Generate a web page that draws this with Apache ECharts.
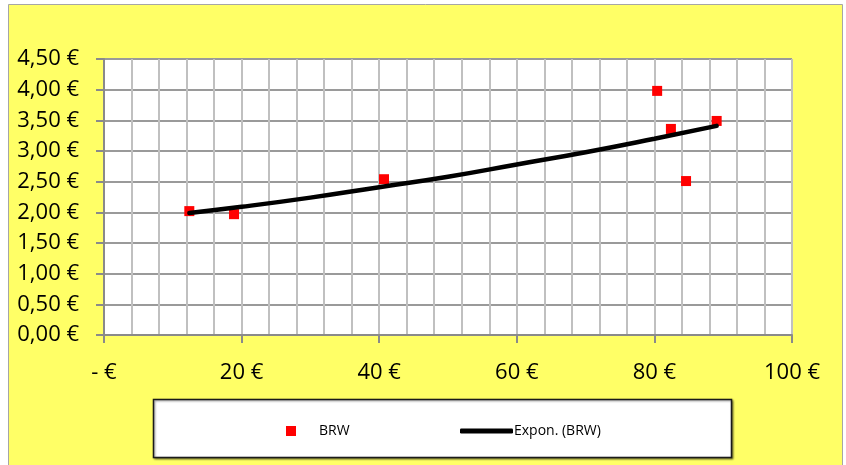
<!DOCTYPE html>
<html>
<head>
<meta charset="utf-8">
<script src="https://cdn.jsdelivr.net/npm/echarts@6/dist/echarts.min.js"></script>
<style>
  html, body { margin: 0; padding: 0; background: #ffffff; }
  #chart { width: 846px; height: 465px; }
</style>
</head>
<body>
<div id="chart"></div>
<script>
// BRW price observations (x: €, y: €)
const brwX = [12.4, 18.9, 40.7, 80.4, 82.4, 84.6, 89.05];
const brwY = [2.02, 1.97, 2.54, 3.98, 3.36, 2.51, 3.49];

// Exponential trend line through the observations
const trendX = [12.4, 20, 30, 40, 50, 60, 70, 80, 89.05];
const trendY = [1.99, 2.09, 2.24, 2.41, 2.58, 2.78, 2.98, 3.20, 3.41];

// Axis tick labels
const xTickValues = [0, 20, 40, 60, 80, 100];
const xTickLabels = ['- €', '20 €', '40 €', '60 €', '80 €', '100 €'];
const yTickValues = [0, 0.5, 1, 1.5, 2, 2.5, 3, 3.5, 4, 4.5];
const yTickLabels = ['0,00 €', '0,50 €', '1,00 €', '1,50 €', '2,00 €', '2,50 €', '3,00 €', '3,50 €', '4,00 €', '4,50 €'];

const seriesNames = ['BRW', 'Expon. (BRW)'];

const FONT = "'Open Sans', 'Noto Sans', sans-serif";

function tickLabel(values, labels) {
  return function (v) {
    for (let i = 0; i < values.length; i++) {
      if (Math.abs(values[i] - v) < 1e-6) return labels[i];
    }
    return '';
  };
}

const chart = echarts.init(document.getElementById('chart'), null, { renderer: 'canvas' });

chart.setOption({
  backgroundColor: '#ffffff',
  animation: false,
  textStyle: { fontFamily: FONT },
  graphic: [
    {
      type: 'rect',
      z: -100,
      shape: { x: 8.5, y: 4.5, width: 834, height: 470 },
      style: { fill: '#FFFF66', stroke: '#a6a6a6', lineWidth: 1 }
    },
    {
      type: 'rect',
      z: 1,
      shape: { x: 153.5, y: 399.5, width: 578, height: 58 },
      style: {
        fill: '#ffffff', stroke: '#1a1a1a', lineWidth: 1.5,
        shadowBlur: 2, shadowOffsetX: 1, shadowOffsetY: 1, shadowColor: 'rgba(0,0,0,0.45)'
      }
    }
  ],
  grid: {
    left: 104, top: 59, right: 54, bottom: 130,
    show: true, backgroundColor: '#ffffff', borderWidth: 0
  },
  legend: [
    {
      data: [seriesNames[0]],
      left: 281, top: 419,
      icon: 'rect',
      itemWidth: 10, itemHeight: 10,
      itemStyle: { color: '#ff0000', opacity: 1 },
      textStyle: { fontFamily: FONT, fontSize: 14, color: '#000', padding: [0, 0, 0, 18] }
    },
    {
      data: [seriesNames[1]],
      left: 455, top: 419,
      icon: 'roundRect',
      itemWidth: 53, itemHeight: 5,
      itemStyle: { color: '#000000' },
      textStyle: { fontFamily: FONT, fontSize: 14, color: '#000', padding: [0, 0, 0, -4] }
    }
  ],
  xAxis: {
    type: 'value',
    min: 0, max: 100, interval: 20,
    axisLine: { show: true, onZero: false, lineStyle: { color: '#8a8a8a', width: 2 } },
    axisTick: { show: true, length: 8, lineStyle: { color: '#8a8a8a', width: 2 } },
    axisLabel: {
      margin: 27, fontSize: 22, color: '#000', fontFamily: FONT,
      formatter: tickLabel(xTickValues, xTickLabels)
    },
    splitLine: { show: true, lineStyle: { color: '#c0c0c0', width: 2 } },
    minorTick: { show: false, splitNumber: 5 },
    minorSplitLine: { show: true, lineStyle: { color: '#c0c0c0', width: 2 } }
  },
  yAxis: {
    type: 'value',
    min: 0, max: 4.5, interval: 0.5,
    axisLine: { show: true, onZero: false, lineStyle: { color: '#8a8a8a', width: 2 } },
    axisTick: { show: true, length: 8, lineStyle: { color: '#8a8a8a', width: 2 } },
    axisLabel: {
      margin: 25, fontSize: 22, color: '#000', fontFamily: FONT,
      formatter: tickLabel(yTickValues, yTickLabels)
    },
    splitLine: { show: true, lineStyle: { color: '#9a9a9a', width: 2 } }
  },
  series: [
    {
      name: seriesNames[0],
      type: 'scatter',
      symbol: 'rect',
      symbolSize: 10,
      itemStyle: { color: '#ff0000', opacity: 1 },
      z: 3,
      data: brwX.map((x, i) => [x, brwY[i]])
    },
    {
      name: seriesNames[1],
      type: 'line',
      smooth: true,
      showSymbol: false,
      symbol: 'none',
      lineStyle: { color: '#000000', width: 4.5, cap: 'round' },
      itemStyle: { color: '#000000' },
      z: 4,
      data: trendX.map((x, i) => [x, trendY[i]])
    }
  ]
});
</script>
</body>
</html>
